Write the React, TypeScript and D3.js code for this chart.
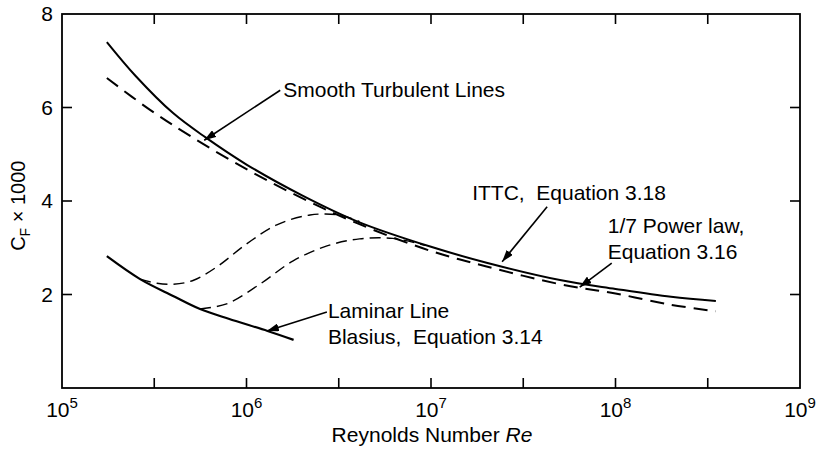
import React from "react";
import * as d3 from "d3";

// ITTC line (Eq 3.18), solid
const ittcRe = [1.75e5, 2.5e5, 4e5, 6e5, 1e6, 2e6, 4e6, 1e7, 2e7, 5e7, 1e8, 2e8, 3.5e8];
const ittcCf = [7.4, 6.68, 5.88, 5.36, 4.78, 4.12, 3.56, 3.02, 2.68, 2.31, 2.12, 1.95, 1.86];

// 1/7 power law (Eq 3.16), dashed
const powerRe = [1.75e5, 3e5, 5e5, 1e6, 2e6, 4e6, 1e7, 2e7, 5e7, 1e8, 2e8, 3.5e8];
const powerCf = [6.63, 5.95, 5.38, 4.68, 4.06, 3.52, 2.93, 2.6, 2.22, 2.02, 1.78, 1.64];

// laminar (Blasius, Eq 3.14)
const laminarRe = [1.75e5, 2.65e5, 4e5, 5.6e5, 8e5, 1.3e6, 1.8e6];
const laminarCf = [2.82, 2.33, 1.97, 1.69, 1.48, 1.22, 1.03];

// transition curves
const trans1Re = [2.65e5, 3.27e5, 4e5, 5.13e5, 6.9e5, 1e6, 1.46e6, 2.21e6, 3.2e6, 4.1e6];
const trans1Cf = [2.33, 2.24, 2.22, 2.3, 2.59, 3.08, 3.49, 3.7, 3.7, 3.56];
const trans2Re = [5.6e5, 7.8e5, 1.18e6, 1.79e6, 2.73e6, 4.1e6, 6.2e6, 9.3e6];
const trans2Cf = [1.69, 1.8, 2.22, 2.72, 3.04, 3.19, 3.2, 3.05];

const yTicks = [2, 4, 6, 8];
const xDecades = [5, 6, 7, 8, 9];
const minorTicks = [5.5, 6, 6.5, 7, 7.5, 8, 8.5];

// labels: arrow tip (data) + tail / text offsets (px)
const notes = [
  { lines: ["Smooth Turbulent Lines"], re: 5.9e5, cf: 5.3, tail: [76, -50], text: [79, -43] },
  { lines: ["ITTC,  Equation 3.18"], re: 2.43e7, cf: 2.7, tail: [45, -55], text: [-30, -62] },
  { lines: ["1/7 Power law,", "Equation 3.16"], re: 6.4e7, cf: 2.16, tail: [32, -24], text: [28, -54] },
  { lines: ["Laminar Line", "Blasius,  Equation 3.14"], re: 1.29e6, cf: 1.22, tail: [60, -19], text: [61, -13] },
];

const W = 820;
const H = 451;
const m = { left: 62, right: 20, top: 14, bottom: 63 };

export default function App() {
  const x = d3.scaleLog().domain([1e5, 1e9]).range([m.left, W - m.right]);
  const y = d3.scaleLinear().domain([0, 8]).range([H - m.bottom, m.top]);
  const x0 = m.left, x1 = W - m.right, y0 = H - m.bottom, y1 = m.top;

  const line = d3
    .line<[number, number]>()
    .x((d) => x(d[0]))
    .y((d) => y(d[1]))
    .curve(d3.curveCatmullRom.alpha(0.5));
  const path = (re: number[], cf: number[]) =>
    line(re.map((r, i) => [r, cf[i]] as [number, number])) || "";

  const font = "'Liberation Sans', Arial, Helvetica, sans-serif";
  const tickLen = 10;

  return (
    <svg
      width={W}
      height={H}
      style={{ position: "absolute", left: 0, top: 0, background: "#fff" }}
      fontFamily={font}
    >
      <defs>
        <marker id="ah" viewBox="0 0 12 8" refX="12" refY="4" markerWidth="12" markerHeight="8" markerUnits="userSpaceOnUse" orient="auto">
          <path d="M0,0 L12,4 L0,8 z" fill="#000" />
        </marker>
      </defs>

      {/* frame */}
      <rect x={x0} y={y1} width={x1 - x0} height={y0 - y1} fill="none" stroke="#000" strokeWidth={1.8} />
      {minorTicks.map((t) => (
        <g key={"mt" + t}>
          <line x1={x(10 ** t)} x2={x(10 ** t)} y1={y0} y2={y0 - tickLen} stroke="#000" strokeWidth={1.6} />
          <line x1={x(10 ** t)} x2={x(10 ** t)} y1={y1} y2={y1 + tickLen} stroke="#000" strokeWidth={1.6} />
        </g>
      ))}
      {yTicks.slice(0, 3).map((t) => (
        <g key={"yt" + t}>
          <line x1={x0} x2={x0 + tickLen} y1={y(t)} y2={y(t)} stroke="#000" strokeWidth={1.6} />
          <line x1={x1} x2={x1 - tickLen} y1={y(t)} y2={y(t)} stroke="#000" strokeWidth={1.6} />
        </g>
      ))}
      {yTicks.map((t) => (
        <text key={"yl" + t} x={x0 - 9} y={y(t) + 7} textAnchor="end" fontSize={21}>
          {t}
        </text>
      ))}
      {xDecades.map((d) => (
        <text key={"xl" + d} x={x(10 ** d)} y={y0 + 29} textAnchor="middle" fontSize={21}>
          10
          <tspan dy={-9} fontSize={15}>{d}</tspan>
        </text>
      ))}
      <text x={432} y={y0 + 54} textAnchor="middle" fontSize={21}>
        Reynolds Number <tspan fontStyle="italic">Re</tspan>
      </text>
      <text transform={`translate(25, ${y(3.9)}) rotate(-90)`} textAnchor="middle" fontSize={20}>
        C<tspan dy={5} fontSize={14}>F</tspan>
        <tspan dy={-5}> × 1000</tspan>
      </text>

      {/* curves */}
      <path d={path(ittcRe, ittcCf)} fill="none" stroke="#000" strokeWidth={2} />
      <path d={path(powerRe, powerCf)} fill="none" stroke="#000" strokeWidth={2} strokeDasharray="14 8" />
      <path d={path(laminarRe, laminarCf)} fill="none" stroke="#000" strokeWidth={2.2} />
      <path d={path(trans1Re, trans1Cf)} fill="none" stroke="#000" strokeWidth={1.4} strokeDasharray="11 6" />
      <path d={path(trans2Re, trans2Cf)} fill="none" stroke="#000" strokeWidth={1.4} strokeDasharray="11 6" />

      {/* annotations */}
      {notes.map((n, i) => {
        const tx = x(n.re), ty = y(n.cf);
        return (
          <g key={"n" + i}>
            <line x1={tx + n.tail[0]} y1={ty + n.tail[1]} x2={tx} y2={ty} stroke="#000" strokeWidth={1.6} markerEnd="url(#ah)" />
            {n.lines.map((s, j) => (
              <text key={j} x={tx + n.text[0]} y={ty + n.text[1] + j * 26} fontSize={21} style={{ whiteSpace: "pre" }}>
                {s}
              </text>
            ))}
          </g>
        );
      })}
    </svg>
  );
}
